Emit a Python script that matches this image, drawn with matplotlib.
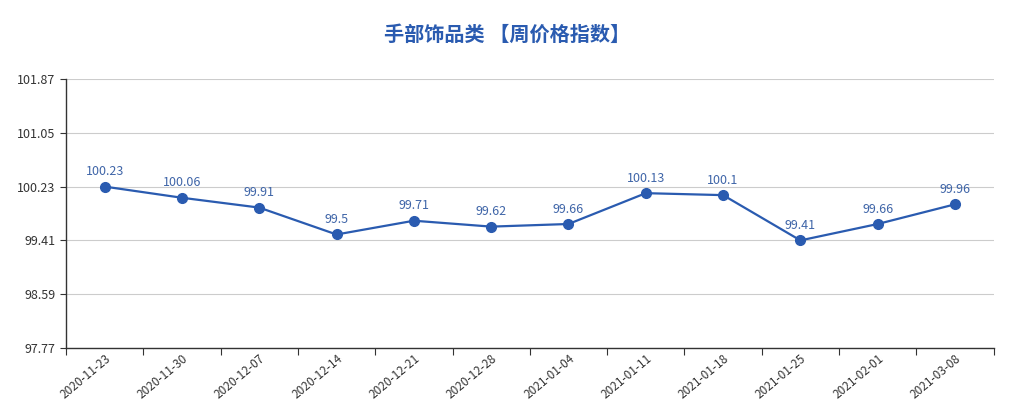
import matplotlib
matplotlib.use("Agg")
import matplotlib.pyplot as plt

plt.rcParams['font.family'] = ['Noto Sans CJK SC', 'DejaVu Sans']

# data
weeks = ["2020-11-23", "2020-11-30", "2020-12-07", "2020-12-14", "2020-12-21",
         "2020-12-28", "2021-01-04", "2021-01-11", "2021-01-18", "2021-01-25",
         "2021-02-01", "2021-03-08"]
index_values = [100.23, 100.06, 99.91, 99.5, 99.71, 99.62, 99.66, 100.13,
                100.1, 99.41, 99.66, 99.96]
y_ticks = [97.77, 98.59, 99.41, 100.23, 101.05, 101.87]
title = "手部饰品类 【周价格指数】"

line_color = "#2a5bb0"

fig = plt.figure(figsize=(10.15, 4.0), dpi=100)
ax = fig.add_axes([0.065, 0.13, 0.914, 0.6725])

x = list(range(len(weeks)))
ax.plot(x, index_values, color=line_color, linewidth=1.6, marker='o',
        markersize=7, markerfacecolor=line_color, markeredgecolor=line_color, zorder=3)

for xi, v in zip(x, index_values):
    ax.annotate(f"{v:g}", xy=(xi, v), xytext=(0, 6), textcoords='offset points',
                ha='center', va='bottom', fontsize=9, color="#3f65a8", zorder=4)

ax.set_xlim(-0.5, len(weeks) - 0.5)
ax.set_ylim(y_ticks[0], y_ticks[-1])
ax.set_yticks(y_ticks)
ax.set_yticklabels([f"{t:.2f}" for t in y_ticks])
ax.yaxis.grid(True, color="#cccccc", linewidth=0.8)
ax.set_axisbelow(True)

# category ticks sit on boundaries, labels on centres
ax.set_xticks([i - 0.5 for i in range(len(weeks) + 1)], minor=False)
ax.set_xticklabels([])
ax.set_xticks(x, minor=True)
ax.set_xticklabels(weeks, minor=True, rotation=40, ha='right', rotation_mode='anchor')
ax.tick_params(axis='x', which='minor', length=0, pad=3, labelsize=8.5, labelcolor="#333333")
ax.tick_params(axis='x', which='major', length=5, color="#333333", direction='out')
ax.tick_params(axis='y', length=4, color="#333333", labelsize=9, labelcolor="#333333")

for side in ['top', 'right']:
    ax.spines[side].set_visible(False)
for side in ['left', 'bottom']:
    ax.spines[side].set_color("#333333")
    ax.spines[side].set_linewidth(1.0)

fig.text(0.5, 0.915, title, ha='center', va='center', fontsize=14.5,
         fontweight='bold', color=line_color)

fig.savefig("out.png", dpi=100)
